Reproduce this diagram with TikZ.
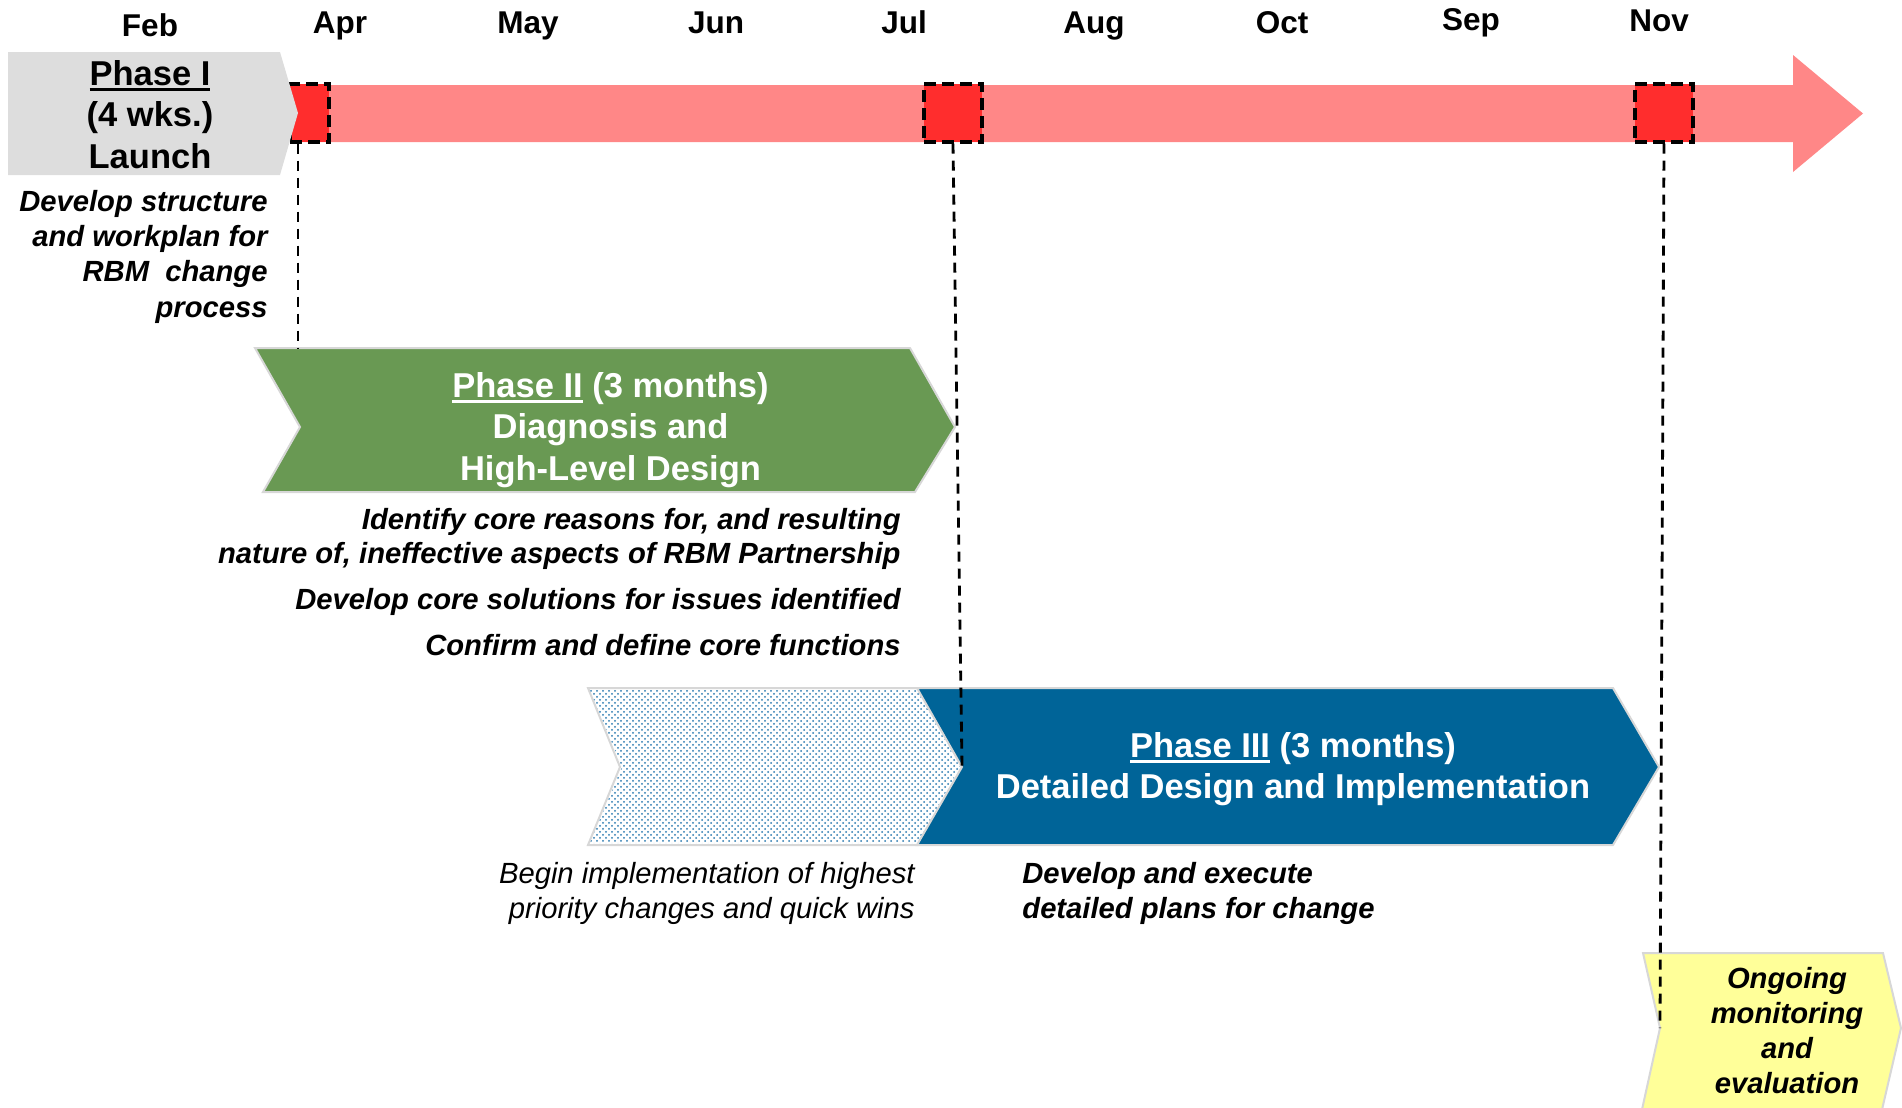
\documentclass[tikz,border=0pt]{standalone}
\usepackage{fontspec}
\setmainfont{Liberation Sans}
\usetikzlibrary{patterns}
\definecolor{redbar}{RGB}{255,135,135}
\definecolor{redsq}{RGB}{255,45,45}
\definecolor{greyph}{RGB}{221,221,221}
\definecolor{greenph}{RGB}{105,153,83}
\definecolor{blueph}{RGB}{0,100,152}
\definecolor{yellowph}{RGB}{255,255,153}
\definecolor{edgegrey}{RGB}{215,215,215}
\definecolor{dotblue}{RGB}{40,120,175}
\newcommand{\phul}[1]{\vtop{\hbox{#1}\kern1.4pt\hrule height1.4pt}}
\begin{document}
\begin{tikzpicture}[x=0.5pt,y=-0.5pt,
  month/.style={font=\fontsize{15.75}{19}\selectfont\bfseries, inner sep=0pt, anchor=base},
  phtext/.style={font=\fontsize{17.25}{20.75}\selectfont\bfseries, inner sep=0pt, align=center, anchor=base},
  note/.style={font=\fontsize{14.6}{17.6}\selectfont\bfseries\itshape, inner sep=0pt},
  sqbox/.style={draw=black, line width=1.6pt, dash pattern=on 6pt off 3pt, fill=redsq, minimum height=29pt, inner sep=0pt},
  dashline/.style={draw=black, line width=1.4pt, dash pattern=on 5pt off 3.5pt},
  shapeedge/.style={draw=edgegrey, line width=1pt, line join=miter}]
\useasboundingbox (0,0) rectangle (1902,1108);
\begin{scope}
\clip (0,0) rectangle (1902,1108);
% months
\node[month] (mFeb) at (150,36) {Feb};
\node[month] (mApr) at (340,33) {Apr};
\node[month] (mMay) at (528,33) {May};
\node[month] (mJun) at (716,33) {Jun};
\node[month] (mJul) at (904,33) {Jul};
\node[month] (mAug) at (1094,33) {Aug};
\node[month] (mOct) at (1282,33) {Oct};
\node[month] (mSep) at (1471,31) {Sep};
\node[month] (mNov) at (1659,32) {Nov};
% red timeline arrow
\fill[redbar] (290,85) -- (1793,85) -- (1793,55) -- (1863,113.5) -- (1793,172) -- (1793,142) -- (290,142) -- cycle;
\node[sqbox, minimum width=19.5pt] (sq1) at (309.5,113) {};
\node[sqbox, minimum width=29pt] (sq2) at (953,113) {};
\node[sqbox, minimum width=29pt] (sq3) at (1664,113) {};
% Phase I
\fill[greyph] (8,52) -- (280,52) -- (298,113) -- (280,175) -- (8,175) -- cycle;
\coordinate (tipI) at (298,113);
% Phase II
\path[fill=greenph, shapeedge] (255,348) -- (910,348) -- (955,427) -- (915,492) -- (263,492) -- (300,427) -- cycle;
\coordinate (topII) at (298,348);
% Phase III (dotted part)
\path[fill=white, shapeedge] (588,688) -- (918,688) -- (962,767) -- (918,845) -- (588,845) -- (620,767) -- cycle;
\fill[pattern=crosshatch dots, pattern color=dotblue] (590,690) -- (917,690) -- (960,767) -- (917,843) -- (590,843) -- (622,767) -- cycle;
% Phase III
\path[fill=blueph, shapeedge] (917,688) -- (1613,688) -- (1659,767) -- (1613,845) -- (917,845) -- (962,767) -- cycle;
\coordinate (notchIII) at (962,767);
% ongoing
\path[fill=yellowph, shapeedge] (1643,953) -- (1883,953) -- (1901,1028) -- (1881,1114) -- (1641,1114) -- (1660,1028) -- cycle;
\coordinate (notchY) at (1660,1028);
% dashed connectors
\draw[dashline] (sq1.south -| tipI) -- (topII);
\draw[dashline] (sq2.south) -- (notchIII);
\draw[dashline] (sq3.south) -- (notchY);
% texts (base anchor = baseline of last line)
\node[phtext] (tI) at (150,168) {\phul{Phase I}\\(4 wks.)\\Launch};
\node[note, align=right, anchor=base east] (nI) at (268,317) {Develop structure\\and workplan for\\RBM~ change\\process};
\node[phtext, text=white] (tII) at (610.5,480) {\phul{Phase II} (3 months)\\Diagnosis and\\High-Level Design};
\node[note, align=right, anchor=base east, font=\fontsize{14.6}{17}\selectfont\bfseries\itshape] (nIIa) at (901,563) {Identify core reasons for, and resulting\\nature of, ineffective aspects of RBM Partnership};
\node[note, anchor=base east] (nIIb) at (901,609) {Develop core solutions for issues identified};
\node[note, anchor=base east] (nIIc) at (901,655) {Confirm and define core functions};
\node[phtext, text=white, font=\fontsize{17.25}{20.5}\selectfont\bfseries] (tIII) at (1293,798) {\phul{Phase III} (3 months)\\Detailed Design and Implementation};
\node[note, align=right, anchor=base east, font=\fontsize{14.6}{17.5}\selectfont\itshape] (nQ) at (915,918) {Begin implementation of highest\\priority changes and quick wins};
\node[note, align=left, anchor=base west, font=\fontsize{14.6}{17.5}\selectfont\bfseries\itshape] (nIII) at (1022,918) {Develop and execute\\detailed plans for change};
\node[note, align=center, anchor=base, font=\fontsize{14.6}{17.5}\selectfont\bfseries\itshape] (tY) at (1787,1093) {Ongoing\\monitoring\\and\\evaluation};
\end{scope}
\end{tikzpicture}
\end{document}
